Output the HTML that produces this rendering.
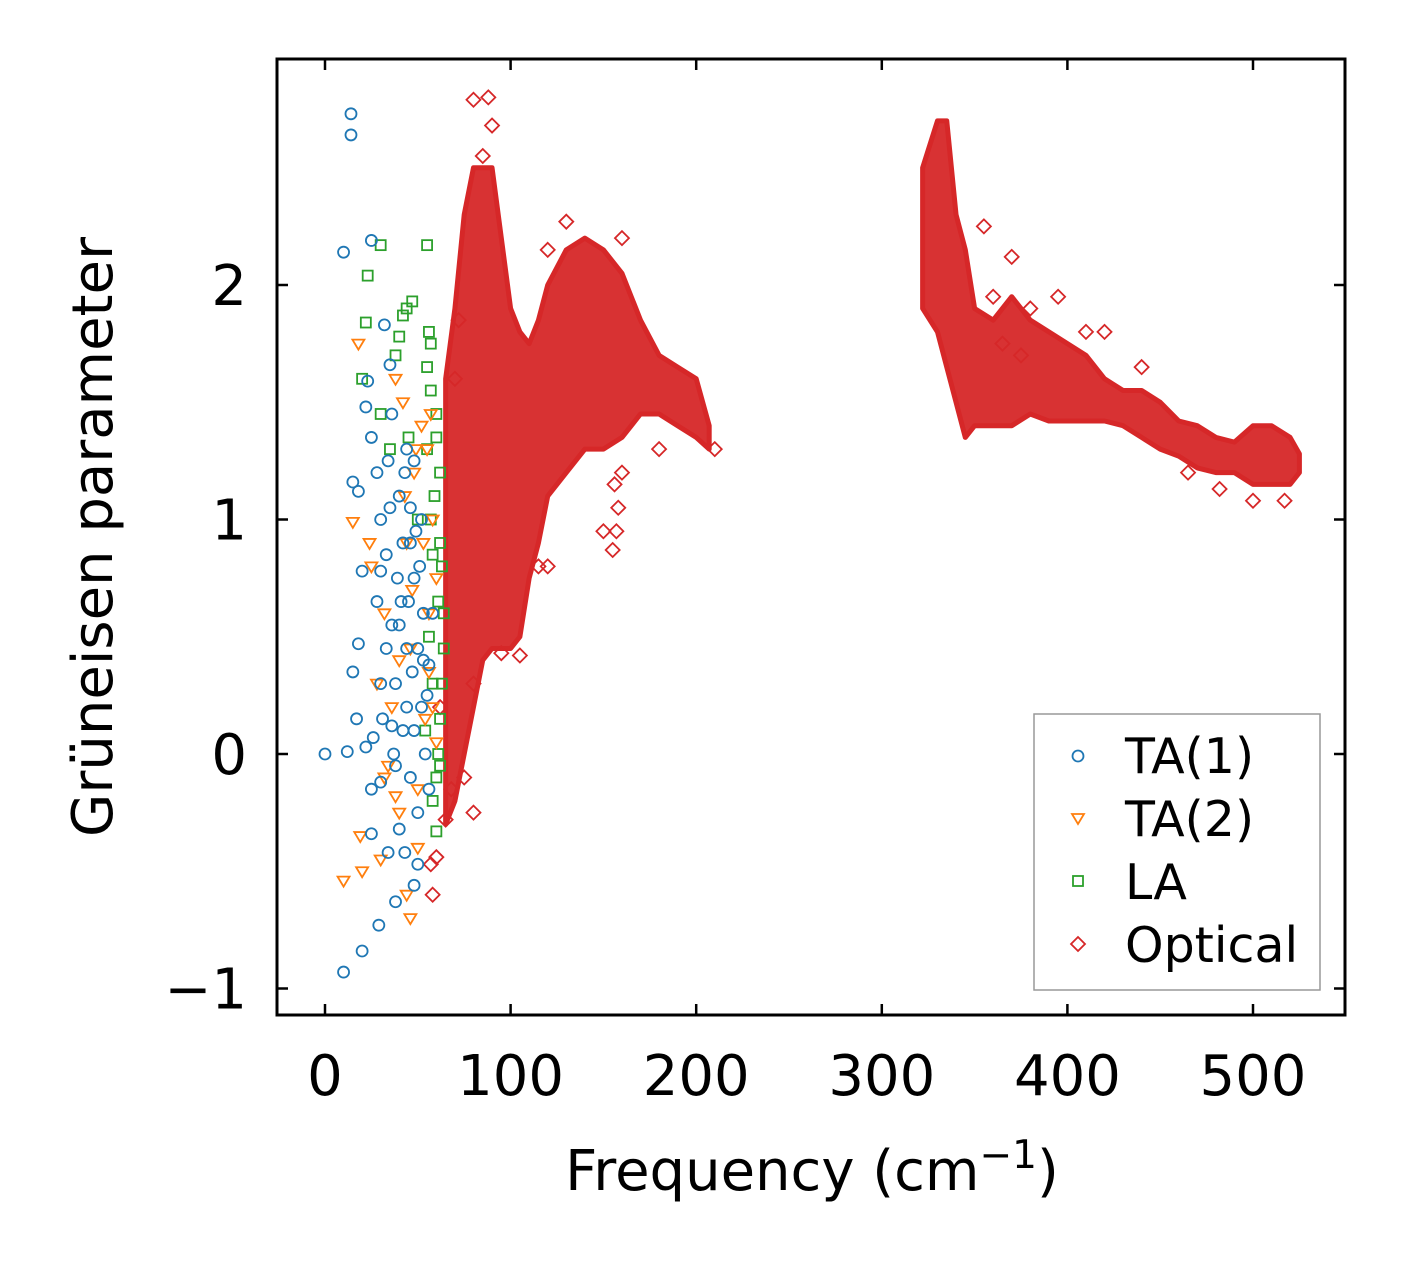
<!DOCTYPE html>
<html><head><meta charset="utf-8"><style>
body{margin:0;background:#fff;}
svg{display:block;font-family:"DejaVu Sans","Liberation Sans",sans-serif;}
</style></head><body>
<svg id="chart" width="1406" height="1264" viewBox="0 0 1406 1264" xmlns="http://www.w3.org/2000/svg">
<rect width="1406" height="1264" fill="#fff"/>
<g id="marks"></g>
<g id="axes"></g>
<text x="812" y="1190" font-size="56" text-anchor="middle">Frequency (cm<tspan dy="-22" font-size="39">−1</tspan><tspan dy="22">)</tspan></text>
<text transform="translate(112,537) rotate(-90)" font-size="56" text-anchor="middle">Grüneisen parameter</text>
<g>
<rect x="1034" y="714" width="286" height="276" fill="#fff" stroke="#999" stroke-width="1.5"/>
<circle cx="1078" cy="756" r="5.5" fill="none" stroke="#1f77b4" stroke-width="1.8"/>
<text x="1125" y="773" font-size="49">TA(1)</text>
<path d="M1072,814 L1084,814 L1078,824 Z" fill="none" stroke="#ff7f0e" stroke-width="1.8"/>
<text x="1125" y="836" font-size="49">TA(2)</text>
<rect x="1073" y="876" width="10" height="10" fill="none" stroke="#2ca02c" stroke-width="1.8"/>
<text x="1125" y="899" font-size="49">LA</text>
<path d="M1078,937 L1085,944 L1078,951 L1071,944 Z" fill="none" stroke="#d62728" stroke-width="1.8"/>
<text x="1125" y="962" font-size="49">Optical</text>
</g>
</svg>
<script>
const xTicks=[0,100,200,300,400,500];
const yTicks=[-1,0,1,2];
const yTickLabels=["−1","0","1","2"];
const ta1=[[0,0],[10,2.14],[12,0.01],[14,2.73],[14,2.64],[10,-0.93],[20,-0.84],[29,-0.73],[25,2.19],[23,1.59],[15,1.16],[18,1.12],[22,1.48],[25,1.35],[20,0.78],[28,0.65],[30,1.0],[32,1.83],[35,1.66],[30,0.78],[18,0.47],[15,0.35],[17,0.15],[22,0.03],[26,0.07],[25,-0.15],[30,-0.12],[25,-0.34],[34,-0.42],[38,-0.63],[43,-0.42],[48,-0.56],[50,-0.47],[40,-0.32],[36,0.12],[38,0.3],[40,0.55],[42,0.9],[44,1.3],[46,1.05],[48,0.75],[50,0.45],[52,0.2],[54,0.0],[56,0.38],[58,0.6],[46,-0.1],[38,-0.05],[33,0.45],[30,0.3],[28,1.2],[36,1.45],[44,0.2],[52,1.0],[48,1.25],[56,-0.15],[40,1.1],[33,0.85],[45,0.65],[50,-0.25],[42,0.1],[47,0.35],[53,0.6],[39,0.75],[35,1.05],[49,0.95],[55,0.25],[43,1.2],[37,0.0],[51,0.8],[46,0.9],[41,0.65],[36,0.55],[44,0.45],[48,0.1],[53,0.4],[31,0.15],[34,1.25]];
const ta2=[[15,0.99],[18,1.75],[10,-0.54],[20,-0.5],[19,-0.35],[30,-0.45],[32,-0.1],[38,-0.18],[44,-0.6],[46,-0.7],[50,-0.4],[28,0.3],[25,0.8],[32,0.6],[36,0.2],[40,0.4],[44,0.9],[48,1.2],[52,1.4],[55,1.3],[58,1.0],[56,0.6],[54,0.15],[50,-0.15],[42,1.5],[38,1.6],[46,0.45],[58,0.2],[60,0.05],[34,-0.05],[24,0.9],[40,-0.25],[60,0.75],[57,1.45],[47,0.7],[53,0.9],[49,1.3],[43,1.1],[56,0.35]];
const la=[[30,2.17],[23,2.04],[55,2.17],[22,1.84],[20,1.6],[38,1.7],[40,1.78],[44,1.9],[47,1.93],[42,1.87],[56,1.8],[57,1.75],[55,1.65],[60,1.45],[62,1.2],[62,0.9],[63,0.8],[64,0.6],[64,0.45],[62,0.15],[60,-0.1],[58,-0.2],[60,-0.33],[62,-0.05],[58,0.3],[55,1.3],[57,1.0],[56,0.5],[54,0.1],[35,1.3],[30,1.45],[45,1.35],[50,1.0],[60,1.35],[63,0.3],[61,0.65],[59,1.1],[58,0.85],[61,0.0],[57,1.55]];
const optLowFreq=[65,70,75,80,85,90,100,105,110,115,120,130,140,150,160,170,180,190,200,207];
const optLowUpper=[1.6,1.9,2.3,2.5,2.5,2.5,1.9,1.8,1.75,1.85,2.0,2.15,2.2,2.15,2.05,1.85,1.7,1.65,1.6,1.4];
const optLowLower=[-0.3,-0.2,0.0,0.2,0.4,0.45,0.45,0.5,0.75,0.9,1.1,1.2,1.3,1.3,1.35,1.45,1.45,1.4,1.35,1.3];
const optHighFreq=[322,330,335,340,345,350,360,370,380,390,400,410,420,430,440,450,460,470,480,490,500,510,520,525];
const optHighUpper=[2.5,2.7,2.7,2.3,2.15,1.9,1.85,1.95,1.85,1.8,1.75,1.7,1.6,1.55,1.55,1.5,1.42,1.4,1.35,1.33,1.4,1.4,1.35,1.28];
const optHighLower=[1.9,1.8,1.65,1.5,1.35,1.4,1.4,1.4,1.45,1.42,1.42,1.42,1.42,1.4,1.35,1.3,1.27,1.22,1.2,1.2,1.15,1.15,1.15,1.2];
const optical=[[80,-0.25],[58,-0.6],[57,-0.47],[60,-0.44],[80,2.79],[88,2.8],[90,2.68],[85,2.55],[130,2.27],[155,0.87],[157,0.95],[158,1.05],[156,1.15],[160,1.2],[210,1.3],[355,2.25],[360,1.95],[370,2.12],[380,1.9],[440,1.65],[482,1.13],[500,1.08],[517,1.08],[465,1.2],[420,1.8],[180,1.3],[160,2.2],[120,2.15],[105,0.42],[95,0.43],[115,0.8],[72,1.85],[70,1.6],[120,0.8],[80,0.3],[75,-0.1],[65,-0.28],[68,-0.15],[62,0.2],[150,0.95],[375,1.7],[395,1.95],[410,1.8],[365,1.75]];

const X0=277,X1=1345,Y0=59,Y1=1015;
const xs=v=>325+(v-0)*1.856;
const ys=v=>754-v*234.5;
const NS="http://www.w3.org/2000/svg";
const marks=document.getElementById('marks');
const axes=document.getElementById('axes');
function mk(tag,attrs,parent){const e=document.createElementNS(NS,tag);for(const k in attrs)e.setAttribute(k,attrs[k]);parent.appendChild(e);return e;}

function band(freq,up,lo,name){
  let d="M"+freq.map((f,i)=>xs(f)+","+ys(up[i])).join(" L");
  for(let i=freq.length-1;i>=0;i--) d+=" L"+xs(freq[i])+","+ys(lo[i]);
  d+=" Z";
  const p=mk('path',{d:d,fill:'#d62728','fill-opacity':'0.95',stroke:'#d62728','stroke-width':'5','stroke-linejoin':'round'},marks);
  
  
}
band(optLowFreq,optLowUpper,optLowLower,'optical-band-low');
band(optHighFreq,optHighUpper,optHighLower,'optical-band-high');

optical.forEach(p=>{const x=xs(p[0]),y=ys(p[1]);
  const e=mk('path',{d:`M${x},${y-7} L${x+7},${y} L${x},${y+7} L${x-7},${y} Z`,fill:'none',stroke:'#d62728','stroke-width':'1.8'},marks);
  
  
});
la.forEach(p=>{const x=xs(p[0]),y=ys(p[1]);
  const e=mk('rect',{x:x-5,y:y-5,width:10,height:10,fill:'none',stroke:'#2ca02c','stroke-width':'1.8'},marks);
  
  
});
ta2.forEach(p=>{const x=xs(p[0]),y=ys(p[1]);
  const e=mk('path',{d:`M${x-6},${y-4} L${x+6},${y-4} L${x},${y+6} Z`,fill:'none',stroke:'#ff7f0e','stroke-width':'1.8'},marks);
  
  
});
ta1.forEach(p=>{
  const e=mk('circle',{cx:xs(p[0]),cy:ys(p[1]),r:5.5,fill:'none',stroke:'#1f77b4','stroke-width':'1.8'},marks);
  
  
});

const frame=mk('rect',{x:X0,y:Y0,width:X1-X0,height:Y1-Y0,fill:'none',stroke:'#000','stroke-width':'3'},axes);


xTicks.forEach(t=>{const x=xs(t);
  mk('line',{x1:x,y1:Y1,x2:x,y2:Y1-11,stroke:'#000','stroke-width':'2.5'},axes);
  mk('line',{x1:x,y1:Y0,x2:x,y2:Y0+11,stroke:'#000','stroke-width':'2.5'},axes);
  const tx=mk('text',{x:x,y:1095,'font-size':'56','text-anchor':'middle'},axes);tx.textContent=t;
  
  
});
yTicks.forEach((t,i)=>{const y=ys(t);
  mk('line',{x1:X0,y1:y,x2:X0+11,y2:y,stroke:'#000','stroke-width':'2.5'},axes);
  mk('line',{x1:X1,y1:y,x2:X1-11,y2:y,stroke:'#000','stroke-width':'2.5'},axes);
  const tx=mk('text',{x:247,y:y+20,'font-size':'56','text-anchor':'end'},axes);tx.textContent=yTickLabels[i];
  
  
});
</script>
</body></html>
